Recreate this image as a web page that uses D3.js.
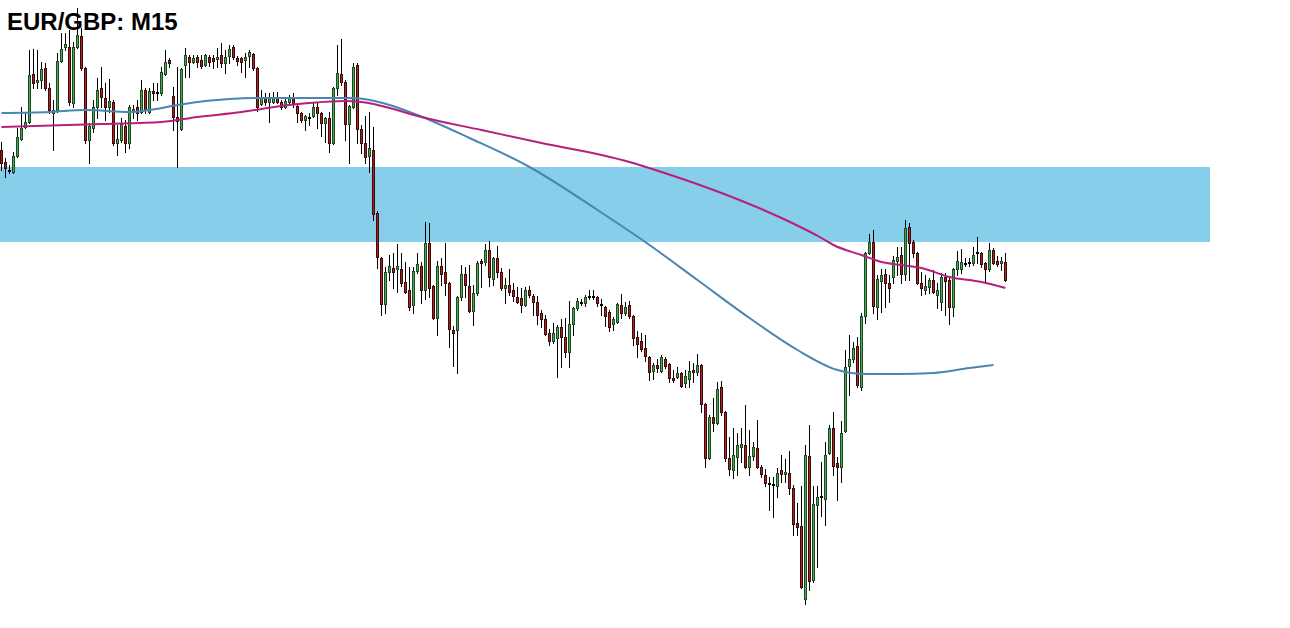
<!DOCTYPE html>
<html>
<head>
<meta charset="utf-8">
<script src="https://cdn.jsdelivr.net/npm/d3@7/dist/d3.min.js"></script>
<style>
html,body{margin:0;padding:0;background:#fff;overflow:hidden;}
svg{display:block;}
</style>
</head>
<body>
<svg id="chart" width="1290" height="628"></svg>
<script>
const title = "EUR/GBP: M15";

const open = [0.85850,0.85838,0.85830,0.85828,0.85844,0.85861,0.85873,0.85878,0.85926,0.85918,
0.85920,0.85932,0.85912,0.85887,0.85890,0.85939,0.85953,0.85953,0.85897,0.85953,
0.85964,0.85932,0.85860,0.85872,0.85893,0.85912,0.85902,0.85893,0.85898,0.85857,
0.85860,0.85874,0.85857,0.85889,0.85893,0.85888,0.85910,0.85888,0.85909,0.85907,
0.85907,0.85926,0.85940,0.85904,0.85883,0.85871,0.85935,0.85943,0.85938,0.85943,
0.85940,0.85935,0.85943,0.85942,0.85941,0.85945,0.85937,0.85944,0.85953,0.85942,
0.85942,0.85940,0.85944,0.85946,0.85932,0.85896,0.85902,0.85898,0.85898,0.85902,
0.85898,0.85893,0.85898,0.85901,0.85894,0.85887,0.85880,0.85882,0.85884,0.85893,
0.85887,0.85877,0.85882,0.85857,0.85912,0.85926,0.85918,0.85876,0.85893,0.85935,
0.85871,0.85857,0.85844,0.85850,0.85787,0.85742,0.85696,0.85728,0.85732,0.85731,
0.85731,0.85718,0.85710,0.85695,0.85729,0.85734,0.85710,0.85757,0.85714,0.85682,
0.85734,0.85728,0.85717,0.85670,0.85670,0.85703,0.85726,0.85714,0.85689,0.85707,
0.85739,0.85738,0.85750,0.85721,0.85742,0.85728,0.85712,0.85715,0.85710,0.85703,
0.85702,0.85695,0.85710,0.85704,0.85698,0.85687,0.85681,0.85667,0.85659,0.85662,
0.85673,0.85663,0.85648,0.85676,0.85692,0.85697,0.85697,0.85703,0.85704,0.85703,
0.85696,0.85693,0.85688,0.85676,0.85678,0.85695,0.85687,0.85695,0.85684,0.85663,
0.85659,0.85652,0.85643,0.85629,0.85635,0.85629,0.85641,0.85636,0.85622,0.85623,
0.85627,0.85617,0.85621,0.85630,0.85628,0.85635,0.85596,0.85542,0.85583,0.85577,
0.85613,0.85588,0.85542,0.85530,0.85543,0.85553,0.85555,0.85533,0.85544,0.85552,
0.85533,0.85525,0.85517,0.85515,0.85514,0.85530,0.85526,0.85527,0.85512,0.85477,
0.85474,0.85401,0.85544,0.85420,0.85495,0.85503,0.85501,0.85547,0.85572,0.85537,
0.85533,0.85569,0.85634,0.85641,0.85654,0.85613,0.85684,0.85747,0.85758,0.85693,
0.85719,0.85726,0.85717,0.85723,0.85739,0.85745,0.85726,0.85773,0.85758,0.85747,
0.85717,0.85710,0.85713,0.85720,0.85705,0.85698,0.85723,0.85720,0.85693,0.85731,
0.85731,0.85736,0.85737,0.85737,0.85748,0.85747,0.85737,0.85731,0.85750,0.85739,
0.85737,0.85738];

const high = [0.85858,0.85842,0.85835,0.85848,0.85872,0.85893,0.85887,0.85950,0.85951,0.85950,
0.85938,0.85937,0.85917,0.85900,0.85947,0.85967,0.85967,0.85970,0.85958,0.85992,
0.85972,0.85933,0.85877,0.85900,0.85922,0.85933,0.85917,0.85921,0.85900,0.85875,
0.85882,0.85880,0.85895,0.85895,0.85900,0.85920,0.85912,0.85912,0.85917,0.85917,
0.85933,0.85950,0.85942,0.85913,0.85933,0.85932,0.85952,0.85945,0.85945,0.85945,
0.85945,0.85946,0.85945,0.85945,0.85952,0.85957,0.85950,0.85955,0.85955,0.85944,
0.85943,0.85947,0.85950,0.85947,0.85933,0.85910,0.85907,0.85907,0.85908,0.85908,
0.85900,0.85902,0.85905,0.85907,0.85896,0.85888,0.85885,0.85887,0.85897,0.85897,
0.85888,0.85883,0.85888,0.85913,0.85955,0.85961,0.85920,0.85895,0.85937,0.85937,
0.85875,0.85884,0.85888,0.85873,0.85789,0.85743,0.85733,0.85745,0.85747,0.85756,
0.85747,0.85738,0.85733,0.85733,0.85747,0.85738,0.85778,0.85777,0.85715,0.85739,
0.85742,0.85757,0.85718,0.85674,0.85704,0.85735,0.85733,0.85735,0.85715,0.85739,
0.85741,0.85756,0.85759,0.85743,0.85754,0.85732,0.85722,0.85731,0.85717,0.85713,
0.85712,0.85713,0.85714,0.85706,0.85704,0.85690,0.85685,0.85671,0.85677,0.85675,
0.85681,0.85682,0.85699,0.85693,0.85702,0.85701,0.85705,0.85710,0.85710,0.85704,
0.85701,0.85694,0.85690,0.85683,0.85697,0.85706,0.85698,0.85699,0.85685,0.85669,
0.85667,0.85665,0.85644,0.85637,0.85641,0.85645,0.85643,0.85637,0.85630,0.85633,
0.85628,0.85630,0.85639,0.85637,0.85646,0.85636,0.85597,0.85585,0.85602,0.85618,
0.85619,0.85589,0.85563,0.85572,0.85567,0.85572,0.85595,0.85570,0.85558,0.85580,
0.85535,0.85531,0.85523,0.85523,0.85532,0.85545,0.85541,0.85549,0.85515,0.85497,
0.85514,0.85555,0.85575,0.85514,0.85514,0.85538,0.85558,0.85575,0.85588,0.85543,
0.85579,0.85650,0.85665,0.85658,0.85663,0.85687,0.85748,0.85766,0.85770,0.85725,
0.85731,0.85731,0.85725,0.85744,0.85753,0.85753,0.85780,0.85777,0.85760,0.85748,
0.85728,0.85725,0.85722,0.85730,0.85717,0.85727,0.85727,0.85723,0.85732,0.85749,
0.85751,0.85742,0.85742,0.85753,0.85763,0.85748,0.85738,0.85757,0.85752,0.85744,
0.85743,0.85747];

const low = [0.85830,0.85823,0.85827,0.85827,0.85843,0.85860,0.85872,0.85877,0.85912,0.85912,
0.85912,0.85910,0.85887,0.85850,0.85888,0.85938,0.85950,0.85895,0.85893,0.85952,
0.85930,0.85857,0.85837,0.85868,0.85882,0.85893,0.85880,0.85888,0.85855,0.85845,
0.85858,0.85848,0.85852,0.85882,0.85880,0.85887,0.85887,0.85887,0.85900,0.85900,
0.85905,0.85925,0.85933,0.85870,0.85833,0.85870,0.85923,0.85923,0.85937,0.85933,
0.85932,0.85934,0.85934,0.85932,0.85933,0.85933,0.85927,0.85937,0.85941,0.85935,
0.85928,0.85923,0.85933,0.85930,0.85889,0.85895,0.85895,0.85878,0.85897,0.85897,
0.85891,0.85892,0.85895,0.85893,0.85878,0.85878,0.85870,0.85875,0.85883,0.85872,
0.85864,0.85858,0.85848,0.85856,0.85905,0.85915,0.85860,0.85837,0.85892,0.85857,
0.85847,0.85837,0.85828,0.85780,0.85732,0.85685,0.85687,0.85720,0.85712,0.85708,
0.85714,0.85707,0.85690,0.85687,0.85727,0.85697,0.85701,0.85703,0.85681,0.85665,
0.85715,0.85705,0.85653,0.85634,0.85627,0.85700,0.85703,0.85688,0.85675,0.85705,
0.85713,0.85735,0.85714,0.85715,0.85723,0.85710,0.85697,0.85705,0.85699,0.85697,
0.85688,0.85694,0.85703,0.85685,0.85676,0.85673,0.85665,0.85655,0.85657,0.85623,
0.85633,0.85643,0.85633,0.85665,0.85690,0.85695,0.85694,0.85701,0.85701,0.85694,
0.85685,0.85674,0.85669,0.85670,0.85677,0.85682,0.85685,0.85682,0.85655,0.85643,
0.85649,0.85639,0.85620,0.85621,0.85628,0.85628,0.85632,0.85618,0.85618,0.85622,
0.85613,0.85613,0.85613,0.85618,0.85625,0.85588,0.85533,0.85541,0.85569,0.85576,
0.85585,0.85539,0.85525,0.85522,0.85525,0.85538,0.85532,0.85525,0.85540,0.85532,
0.85523,0.85514,0.85490,0.85483,0.85503,0.85518,0.85518,0.85506,0.85465,0.85465,
0.85412,0.85396,0.85410,0.85418,0.85433,0.85484,0.85475,0.85546,0.85525,0.85500,
0.85518,0.85568,0.85605,0.85638,0.85613,0.85610,0.85677,0.85746,0.85687,0.85681,
0.85688,0.85693,0.85698,0.85717,0.85725,0.85717,0.85720,0.85720,0.85743,0.85716,
0.85705,0.85706,0.85707,0.85707,0.85692,0.85690,0.85685,0.85676,0.85684,0.85725,
0.85727,0.85734,0.85734,0.85735,0.85737,0.85733,0.85717,0.85729,0.85736,0.85734,
0.85730,0.85719];

const close = [0.85837,0.85832,0.85829,0.85844,0.85863,0.85872,0.85878,0.85925,0.85917,0.85920,
0.85931,0.85912,0.85890,0.85890,0.85939,0.85951,0.85956,0.85898,0.85953,0.85965,
0.85932,0.85860,0.85874,0.85893,0.85910,0.85903,0.85893,0.85899,0.85857,0.85861,
0.85876,0.85857,0.85893,0.85891,0.85887,0.85910,0.85890,0.85909,0.85907,0.85908,
0.85928,0.85938,0.85937,0.85883,0.85879,0.85931,0.85945,0.85938,0.85942,0.85938,
0.85934,0.85945,0.85938,0.85939,0.85943,0.85937,0.85943,0.85951,0.85943,0.85939,
0.85938,0.85943,0.85948,0.85932,0.85893,0.85902,0.85898,0.85902,0.85903,0.85898,
0.85893,0.85899,0.85902,0.85896,0.85887,0.85880,0.85884,0.85883,0.85893,0.85887,
0.85877,0.85882,0.85857,0.85912,0.85927,0.85918,0.85876,0.85894,0.85933,0.85871,
0.85857,0.85843,0.85852,0.85786,0.85743,0.85696,0.85728,0.85734,0.85728,0.85734,
0.85717,0.85708,0.85693,0.85729,0.85736,0.85710,0.85757,0.85712,0.85682,0.85734,
0.85726,0.85717,0.85671,0.85667,0.85703,0.85726,0.85715,0.85689,0.85707,0.85737,
0.85737,0.85750,0.85723,0.85742,0.85728,0.85712,0.85715,0.85708,0.85704,0.85698,
0.85695,0.85710,0.85705,0.85698,0.85685,0.85681,0.85666,0.85659,0.85667,0.85673,
0.85663,0.85648,0.85676,0.85692,0.85699,0.85698,0.85703,0.85704,0.85703,0.85697,
0.85695,0.85684,0.85673,0.85681,0.85696,0.85687,0.85693,0.85684,0.85662,0.85656,
0.85651,0.85644,0.85628,0.85635,0.85632,0.85643,0.85634,0.85622,0.85620,0.85627,
0.85614,0.85624,0.85629,0.85628,0.85635,0.85596,0.85542,0.85583,0.85577,0.85611,
0.85588,0.85542,0.85531,0.85545,0.85555,0.85556,0.85533,0.85544,0.85553,0.85533,
0.85526,0.85517,0.85516,0.85516,0.85527,0.85526,0.85528,0.85512,0.85476,0.85473,
0.85413,0.85545,0.85419,0.85496,0.85503,0.85504,0.85545,0.85572,0.85534,0.85533,
0.85567,0.85633,0.85641,0.85652,0.85615,0.85684,0.85747,0.85758,0.85694,0.85721,
0.85725,0.85717,0.85712,0.85740,0.85743,0.85726,0.85772,0.85757,0.85747,0.85717,
0.85712,0.85714,0.85720,0.85708,0.85710,0.85723,0.85719,0.85693,0.85731,0.85739,
0.85738,0.85737,0.85738,0.85745,0.85747,0.85736,0.85731,0.85750,0.85737,0.85736,
0.85739,0.85720];

// moving averages sampled at bar indices
const maSlowBars = [0,12,21,32,37,44,51,57,65,76,88,92,97,104,117,132,149,162,174,187,199,209,216,224,233,242,248];
const maSlowVals = [0.85887,0.85888,0.85890,0.85888,0.85890,0.85895,0.85899,0.85901,0.85902,0.85902,0.85902,0.85900,0.85895,0.85885,0.85862,0.85833,0.85790,0.85755,0.85720,0.85682,0.85650,0.85630,0.85626,0.85626,0.85627,0.85632,0.85635];
const maFastBars = [0,25,40,49,60,70,77,86,90,93,97,105,120,135,150,157,165,180,195,205,208,215,220,225,230,237,245,251];
const maFastVals = [0.85873,0.85876,0.85878,0.85883,0.85888,0.85894,0.85897,0.85899,0.85898,0.85896,0.85892,0.85883,0.85870,0.85857,0.85845,0.85838,0.85828,0.85807,0.85782,0.85762,0.85755,0.85745,0.85738,0.85735,0.85732,0.85723,0.85718,0.85712];

// supply/resistance zone
const zoneTop = 0.85833;
const zoneBottom = 0.85758;
const zoneEndBar = 302;

const W = 1290, H = 628;
const n = open.length;
const bars = d3.range(n).map(i => ({i, o: open[i], h: high[i], l: low[i], c: close[i]}));

const x = d3.scaleLinear().domain([0, n - 1]).range([1.5, 1.5 + 4 * (n - 1)]);
const y = d3.scaleLinear().domain([0.85372, 0.86000]).range([H, 0]);
const Y = v => Math.round(y(v));

const bullFill = "#45a852", bearFill = "#a8231f";
const bullEdge = "#1d4a22", bearEdge = "#3e0b0a";

const svg = d3.select("#chart");
svg.append("rect").attr("width", W).attr("height", H).attr("fill", "#ffffff");

// zone
svg.append("rect")
  .attr("x", 0)
  .attr("y", Y(zoneTop))
  .attr("width", Math.round(x(zoneEndBar)))
  .attr("height", Y(zoneBottom) - Y(zoneTop))
  .attr("fill", "#87ceeb");

const g = svg.append("g").attr("shape-rendering", "crispEdges");

// wicks
g.selectAll("rect.wick").data(bars).join("rect")
  .attr("class", "wick")
  .attr("x", d => Math.floor(x(d.i)))
  .attr("y", d => Y(d.h))
  .attr("width", 1)
  .attr("height", d => Y(d.l) - Y(d.h) + 1)
  .attr("fill", "#000");

// body outline (3px wide)
g.selectAll("rect.bodyOut").data(bars).join("rect")
  .attr("class", "bodyOut")
  .attr("x", d => Math.floor(x(d.i)) - 1)
  .attr("y", d => Math.min(Y(d.o), Y(d.c)))
  .attr("width", 3)
  .attr("height", d => Math.abs(Y(d.o) - Y(d.c)) + 1)
  .attr("fill", d => Math.abs(Y(d.o) - Y(d.c)) < 2 ? "#000" : (d.c >= d.o ? bullEdge : bearEdge));

// body fill (inner column)
g.selectAll("rect.bodyIn").data(bars.filter(d => Math.abs(Y(d.o) - Y(d.c)) >= 2)).join("rect")
  .attr("class", "bodyIn")
  .attr("x", d => Math.floor(x(d.i)))
  .attr("y", d => Math.min(Y(d.o), Y(d.c)) + 1)
  .attr("width", 1)
  .attr("height", d => Math.abs(Y(d.o) - Y(d.c)) - 1)
  .attr("fill", d => d.c >= d.o ? bullFill : bearFill);

// moving averages
const line = d3.line().x(d => x(d[0])).y(d => y(d[1])).curve(d3.curveMonotoneX);
svg.append("path")
  .datum(maSlowBars.map((b, k) => [b, maSlowVals[k]]))
  .attr("d", line).attr("fill", "none")
  .attr("stroke", "#4a86b0").attr("stroke-width", 2);
svg.append("path")
  .datum(maFastBars.map((b, k) => [b, maFastVals[k]]))
  .attr("d", line).attr("fill", "none")
  .attr("stroke", "#b61f7c").attr("stroke-width", 2);

svg.append("text")
  .attr("x", 7).attr("y", 30)
  .attr("font-family", "'Liberation Sans', Arial, sans-serif")
  .attr("font-weight", "bold")
  .attr("font-size", 24)
  .attr("fill", "#000")
  .text(title);
</script>
</body>
</html>
